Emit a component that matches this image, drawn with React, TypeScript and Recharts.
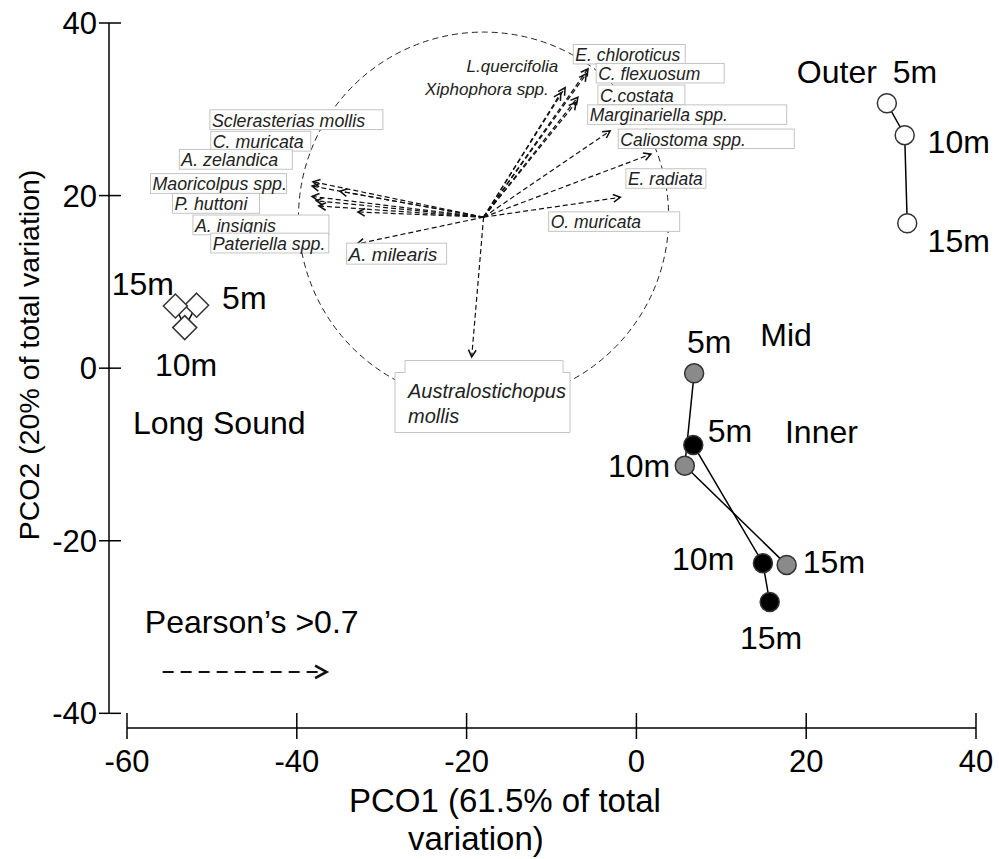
import React from "react";
import {
  ScatterChart,
  Scatter,
  XAxis,
  YAxis,
  ReferenceLine,
  ReferenceDot,
  Label,
} from "recharts";

// axes
const X_TICKS = [-60, -40, -20, 0, 20, 40];
const Y_TICKS = [-40, -20, 0, 20, 40];
const X_DOMAIN: [number, number] = [-62.12, 40];
const Y_DOMAIN: [number, number] = [-41.7, 40];

// site scores (PCO1, PCO2), depth order 5m, 10m, 15m
const depths = ["5m", "10m", "15m"];
const outerX = [29.5, 31.6, 31.9];
const outerY = [30.7, 27.0, 16.8];
const midX = [6.8, 5.7, 17.7];
const midY = [-0.6, -11.3, -22.8];
const innerX = [6.7, 14.9, 15.7];
const innerY = [-8.9, -22.6, -27.1];
const longSoundX = [-51.8, -53.2, -54.3];
const longSoundY = [7.3, 4.7, 7.2];

// text annotations on the plot (text start, baseline)
const siteLabels = [
  "Outer", "5m", "10m", "15m",
  "Mid", "5m", "10m", "15m",
  "Inner", "5m", "10m", "15m",
  "15m", "5m", "10m", "Long Sound",
  "Pearson\u2019s >0.7",
];
const siteLabelX = [18.9, 30.2, 34.3, 34.3, 14.6, 5.96, -3.35, 19.6, 17.5, 8.4, 4.2, 12.2, -61.8, -48.8, -56.7, -59.3, -57.9];
const siteLabelY = [33.0, 33.0, 24.9, 13.5, 2.6, 1.76, -12.6, -23.7, -8.7, -8.6, -23.4, -32.6, 8.5, 6.8, -0.9, -7.6, -30.7];

// species vectors (Pearson > 0.7)
const vectorOrigin = { x: -18, y: 17.5 };
const species = [
  "Sclerasterias mollis", "C. muricata", "A. zelandica", "Maoricolpus spp.",
  "P. huttoni", "A. insignis", "Pateriella spp.", "A. milearis",
  "L.quercifolia", "Xiphophora spp.", "E. chloroticus", "C. flexuosum",
  "C.costata", "Marginariella spp.", "Caliostoma spp.", "E. radiata",
  "O. muricata",
];
const speciesX = [-38.1, -38.2, -34.9, -38.2, -37.7, -37.4, -32.8, -32.9, -8.4, -8.9, -5.7, -5.9, -6.9, -7.1, -3.1, 1.7, -1.9];
const speciesY = [21.6, 21.1, 20.5, 19.9, 19.4, 18.8, 18.1, 14.4, 32.5, 31.9, 34.7, 34.1, 31.4, 30.8, 27.5, 24.8, 19.8];
const speciesLabelX = [-50.0, -49.9, -53.6, -57.0, -54.4, -52.0, -49.9, -33.9, -20.0, -24.9, -7.2, -4.5, -4.3, -5.5, -1.9, -1.0, -10.1];
const speciesLabelY = [28.0, 25.5, 23.4, 20.6, 18.3, 15.8, 13.7, 12.4, 34.3, 31.6, 35.6, 33.4, 30.9, 28.6, 25.8, 21.2, 16.2];

const bigVector = { name: ["Australostichopus", "mollis"], x: -19.4, y: 1.3, labelX: -26.9, labelY: -3.4 };
const legendArrow = { x1: -55.8, x2: -36.5, y: -35.2 };

// layout only: label box widths (px, 0 = no box) and font sizes
const LABEL_BOX_W = [173, 100, 113, 136, 87, 136, 118, 100, 0, 0, 112, 128, 87, 199, 176, 80, 131];
const LABEL_FONT = [17.8, 17.8, 17.8, 17.8, 17.8, 17.8, 17.8, 19, 17, 17, 17.5, 17.5, 17.5, 17.5, 17.5, 17.5, 17.5];

const W = 999;
const H = 859;
const MARGIN = { top: 23, right: 23, bottom: 31, left: 0 };
const Y_AXIS_W = 109;
const X_AXIS_H = 100;
const PX_PER_X = (W - MARGIN.right - MARGIN.left - Y_AXIS_W) / (X_DOMAIN[1] - X_DOMAIN[0]);
const CIRCLE_R = 21.8; // correlation circle, PCO1 units
const FONT = "'Liberation Sans', Arial, Helvetica, sans-serif";

const toPoints = (xs: number[], ys: number[]) =>
  xs.map((x, i) => ({ x, y: ys[i], depth: depths[i] }));

const renderXTick = (p: any) => {
  const { x, y, payload } = p;
  return (
    <g>
      <line x1={x} x2={x} y1={y - 15} y2={y + 11} stroke="#000" strokeWidth={1.5} />
      <text x={x} y={y + 44} textAnchor="middle" fontSize={31} fill="#000">
        {payload.value}
      </text>
    </g>
  );
};

const renderYTick = (p: any) => {
  const { x, y, payload } = p;
  return (
    <g>
      <line x1={x - 10} x2={x + 12} y1={y} y2={y} stroke="#000" strokeWidth={1.5} />
      <text x={x - 12} y={y} dy="0.36em" textAnchor="end" fontSize={31} fill="#000">
        {payload.value}
      </text>
    </g>
  );
};

const arrow = (head: number, width: number, dash: string) => (p: any) => {
  const { x1, y1, x2, y2 } = p;
  const a = Math.atan2(y2 - y1, x2 - x1);
  const s = 0.5;
  const hx1 = x2 - head * Math.cos(a - s);
  const hy1 = y2 - head * Math.sin(a - s);
  const hx2 = x2 - head * Math.cos(a + s);
  const hy2 = y2 - head * Math.sin(a + s);
  return (
    <g>
      <line x1={x1} y1={y1} x2={x2} y2={y2} stroke="#111" strokeWidth={width} strokeDasharray={dash} />
      <polyline
        points={`${hx1},${hy1} ${x2},${y2} ${hx2},${hy2}`}
        fill="none"
        stroke="#111"
        strokeWidth={width * 1.3}
      />
    </g>
  );
};

const speciesTag = (i: number) => (p: any) => {
  const { cx, cy } = p;
  const w = LABEL_BOX_W[i];
  const fs = LABEL_FONT[i];
  return (
    <g>
      {w > 0 && (
        <rect x={cx - 2} y={cy - fs + 1} width={w} height={fs + 2} fill="#fff" stroke="#c4c4c4" />
      )}
      <text x={cx} y={cy} fontSize={fs} fontStyle="italic" fill="#222">
        {species[i]}
      </text>
    </g>
  );
};

const bigTag = (p: any) => {
  const { cx, cy } = p;
  const d = `M${cx - 13},${cy - 25} H${cx - 3} V${cy - 37} H${cx + 155} V${cy - 25} H${cx + 162} V${cy + 35} H${cx - 13} Z`;
  return (
    <g>
      <path d={d} fill="#fff" stroke="#c4c4c4" />
      <text x={cx} y={cy} fontSize={20} fontStyle="italic" fill="#222">
        {bigVector.name[0]}
      </text>
      <text x={cx} y={cy + 25} fontSize={20} fontStyle="italic" fill="#222">
        {bigVector.name[1]}
      </text>
    </g>
  );
};

const circleShape = (p: any) => (
  <circle
    cx={p.cx}
    cy={p.cy}
    r={CIRCLE_R * PX_PER_X}
    fill="none"
    stroke="#222"
    strokeWidth={1}
    strokeDasharray="6 4"
  />
);

const dot = (fill: string) => (p: any) => (
  <circle cx={p.cx} cy={p.cy} r={9.5} fill={fill} stroke="#333" strokeWidth={1.5} />
);

const diamond = (p: any) => {
  const { cx, cy } = p;
  const r = 12;
  return (
    <polygon
      points={`${cx},${cy - r} ${cx + r},${cy} ${cx},${cy + r} ${cx - r},${cy}`}
      fill="#fff"
      stroke="#333"
      strokeWidth={1.5}
    />
  );
};

const textShape = (p: any) => (
  <text x={p.cx} y={p.cy} fontSize={32} fill="#000">
    {p.payload.label}
  </text>
);

const xTitle = () => (
  <g>
    <text x={349} y={812} fontSize={33} fill="#000">
      PCO1 (61.5% of total
    </text>
    <text x={408} y={850} fontSize={33} fill="#000">
      variation)
    </text>
  </g>
);

const yTitle = () => (
  <text
    x={0}
    y={0}
    transform="translate(39,355) rotate(-90)"
    textAnchor="middle"
    fontSize={28.5}
    fill="#000"
  >
    PCO2 (20% of total variation)
  </text>
);

export default function App() {
  const labelData = siteLabels.map((label, i) => ({ x: siteLabelX[i], y: siteLabelY[i], label }));
  const line = { stroke: "#000", strokeWidth: 1.5 };

  return (
    <div style={{ position: "absolute", left: 0, top: 0, width: W, height: H, background: "#fff", fontFamily: FONT }}>
      <ScatterChart width={W} height={H} margin={MARGIN}>
        <XAxis
          type="number"
          dataKey="x"
          domain={X_DOMAIN}
          ticks={X_TICKS}
          interval={0}
          axisLine={false}
          tickLine={false}
          tickSize={0}
          tickMargin={0}
          height={X_AXIS_H}
          tick={renderXTick}
        >
          <Label content={xTitle} />
        </XAxis>
        <YAxis
          type="number"
          dataKey="y"
          domain={Y_DOMAIN}
          ticks={Y_TICKS}
          interval={0}
          axisLine={false}
          tickLine={false}
          tickSize={0}
          tickMargin={0}
          width={Y_AXIS_W}
          tick={renderYTick}
        >
          <Label content={yTitle} />
        </YAxis>

        <ReferenceLine
          segment={[{ x: X_TICKS[0], y: Y_DOMAIN[0] }, { x: X_TICKS[X_TICKS.length - 1], y: Y_DOMAIN[0] }]}
          stroke="#000"
          strokeWidth={1.5}
          ifOverflow="visible"
        />
        <ReferenceLine
          segment={[{ x: X_DOMAIN[0], y: Y_TICKS[0] }, { x: X_DOMAIN[0], y: Y_TICKS[Y_TICKS.length - 1] }]}
          stroke="#000"
          strokeWidth={1.5}
          ifOverflow="visible"
        />

        <ReferenceDot x={vectorOrigin.x} y={vectorOrigin.y} shape={circleShape} ifOverflow="visible" />

        {species.map((name, i) => (
          <ReferenceLine
            key={`v-${name}`}
            segment={[vectorOrigin, { x: speciesX[i], y: speciesY[i] }]}
            shape={arrow(8, 1.2, "5 3")}
            ifOverflow="visible"
          />
        ))}
        <ReferenceLine
          segment={[vectorOrigin, { x: bigVector.x, y: bigVector.y }]}
          shape={arrow(8, 1.2, "5 3")}
          ifOverflow="visible"
        />

        {species.map((name, i) => (
          <ReferenceDot
            key={`t-${name}`}
            x={speciesLabelX[i]}
            y={speciesLabelY[i]}
            shape={speciesTag(i)}
            ifOverflow="visible"
          />
        ))}
        <ReferenceDot x={bigVector.labelX} y={bigVector.labelY} shape={bigTag} ifOverflow="visible" />

        <ReferenceLine
          segment={[{ x: legendArrow.x1, y: legendArrow.y }, { x: legendArrow.x2, y: legendArrow.y }]}
          shape={arrow(13, 2, "11 7")}
          ifOverflow="visible"
        />

        <Scatter data={toPoints(outerX, outerY)} line={line} shape={dot("#fff")} isAnimationActive={false} />
        <Scatter data={toPoints(midX, midY)} line={line} shape={dot("#8a8a8a")} isAnimationActive={false} />
        <Scatter data={toPoints(innerX, innerY)} line={line} shape={dot("#000")} isAnimationActive={false} />
        <Scatter data={toPoints(longSoundX, longSoundY)} line={line} shape={diamond} isAnimationActive={false} />
        <Scatter data={labelData} shape={textShape} isAnimationActive={false} />
      </ScatterChart>
    </div>
  );
}
